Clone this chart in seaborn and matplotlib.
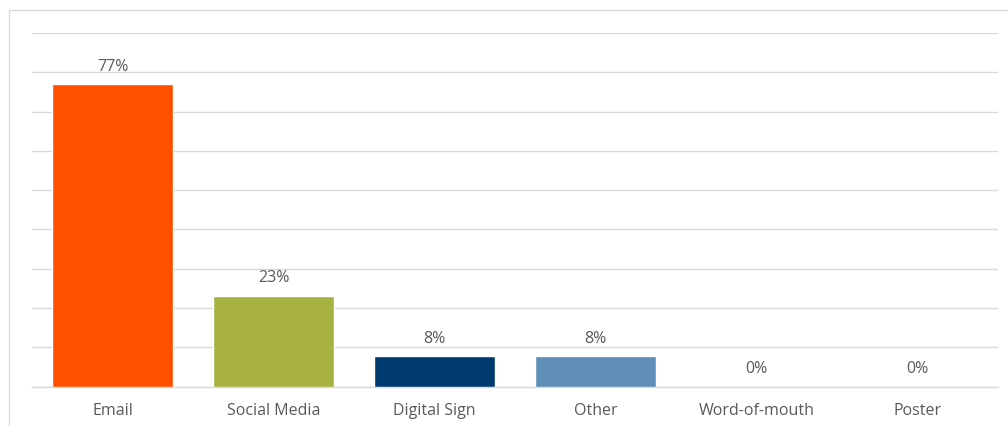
import matplotlib
matplotlib.use("Agg")
import matplotlib.pyplot as plt
import seaborn as sns
import pandas as pd
from matplotlib.patches import Rectangle

categories = ["Email", "Social Media", "Digital Sign", "Other", "Word-of-mouth", "Poster"]
values = [76.9, 23.1, 7.7, 7.7, 0.0, 0.0]
labels = ["77%", "23%", "8%", "8%", "0%", "0%"]
colors = ["#FF5000", "#A7B243", "#003B6F", "#5F8FB8", "#A0A0A0", "#A0A0A0"]

sns.set_theme(style="white")
plt.rcParams['font.family'] = ['Open Sans', 'DejaVu Sans']

W, H = 1008, 426
fig = plt.figure(figsize=(W / 100, H / 100), dpi=100)
ax = fig.add_axes([32 / W, 39.3 / H, (998 - 32) / W, (393 - 39.3) / H])

df = pd.DataFrame({"cat": categories, "val": values})
sns.barplot(data=df, x="cat", y="val", hue="cat", palette=colors, legend=False,
            width=0.75, ax=ax, zorder=3, saturation=1)

ax.set_ylim(0, 90)
ax.set_yticks(range(0, 91, 10))
ax.yaxis.grid(True, color="#D9D9D9", linewidth=1.0, zorder=0)
ax.set_yticklabels([])
ax.tick_params(axis="y", length=0)
ax.tick_params(axis="x", length=0, pad=12, labelsize=11.5, labelcolor="#595959")
ax.set_xlabel("")
ax.set_ylabel("")
for s in ["left", "right", "top"]:
    ax.spines[s].set_visible(False)
ax.spines["bottom"].set_color("#D9D9D9")
ax.spines["bottom"].set_linewidth(1.0)

for i, (v, lab) in enumerate(zip(values, labels)):
    ax.annotate(lab, xy=(i, v), xytext=(0, 7), textcoords="offset points",
                ha="center", va="bottom", fontsize=11.5, color="#595959")

fig.patches.append(Rectangle((9 / W, -0.05), 1.1, (H - 10) / H + 0.05,
                             transform=fig.transFigure, fill=False,
                             edgecolor="#D9D9D9", linewidth=1.0))

fig.savefig("out.png", dpi=100)
